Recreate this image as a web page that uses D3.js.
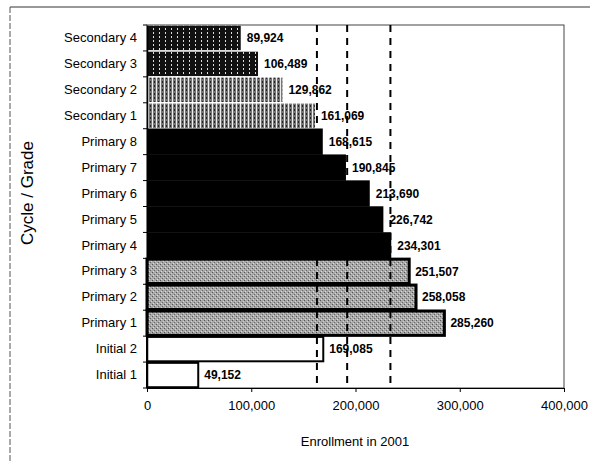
<!DOCTYPE html>
<html><head><meta charset="utf-8">
<script src="https://cdn.jsdelivr.net/npm/d3@7"></script>
<style>body{margin:0;background:#fff;} svg{display:block;font-family:"Liberation Sans",Arial,sans-serif;}</style>
</head><body>
<svg id="chart" width="596" height="463"></svg>
<script>
const categories = ["Secondary 4","Secondary 3","Secondary 2","Secondary 1","Primary 8","Primary 7","Primary 6","Primary 5","Primary 4","Primary 3","Primary 2","Primary 1","Initial 2","Initial 1"];
const enrollment = [89924,106489,129862,161069,168615,190845,213690,226742,234301,251507,258058,285260,169085,49152];
const fillTypes = ["stripeDark","stripeDark","stripeLight","stripeLight","solid","solid","solid","solid","solid","speckle","speckle","speckle","white","white"];
const refLines = [163000,192000,233500];
const xTicks = [0,100000,200000,300000,400000];

(function(){
const svg = d3.select("#chart");
const defs = svg.append("defs");
let p = defs.append("pattern").attr("id","stripeDark").attr("patternUnits","userSpaceOnUse").attr("width",6).attr("height",4);
p.append("rect").attr("width",6).attr("height",4).attr("fill","#111");
p.append("rect").attr("x",3).attr("y",0).attr("width",1).attr("height",2).attr("fill","#ddd");
p = defs.append("pattern").attr("id","stripeLight").attr("patternUnits","userSpaceOnUse").attr("width",4).attr("height",4);
p.append("rect").attr("width",4).attr("height",4).attr("fill","#777");
p.append("rect").attr("x",0).attr("y",0).attr("width",1).attr("height",4).attr("fill","#eee");
p.append("rect").attr("x",2).attr("y",1).attr("width",1).attr("height",2).attr("fill","#222");
p = defs.append("pattern").attr("id","speckle").attr("patternUnits","userSpaceOnUse").attr("width",4).attr("height",4);
p.append("rect").attr("width",4).attr("height",4).attr("fill","#a8a8a8");
p.append("rect").attr("x",0).attr("y",0).attr("width",1).attr("height",1).attr("fill","#555");
p.append("rect").attr("x",2).attr("y",2).attr("width",1).attr("height",1).attr("fill","#666");
p.append("rect").attr("x",1).attr("y",3).attr("width",1).attr("height",1).attr("fill","#ddd");
p.append("rect").attr("x",3).attr("y",1).attr("width",1).attr("height",1).attr("fill","#d0d0d0");

const fills = {stripeDark:"url(#stripeDark)", stripeLight:"url(#stripeLight)", solid:"#000", speckle:"url(#speckle)", white:"#fff"};

const mL = 147, mR = 564, mT = 25, mB = 388;
const x = d3.scaleLinear().domain([0,400000]).range([mL,mR]);
const y = d3.scaleBand().domain(categories).range([mT,mB]).paddingInner(0.06).paddingOuter(0.03);

svg.append("line").attr("x1",10).attr("x2",590).attr("y1",7).attr("y2",7).attr("stroke","#333").attr("stroke-width",1);
svg.append("line").attr("x1",10).attr("x2",10).attr("y1",7).attr("y2",463).attr("stroke","#555").attr("stroke-width",1).attr("stroke-dasharray","6,2");

svg.append("rect").attr("x",mL).attr("y",mT).attr("width",mR-mL).attr("height",mB-mT)
  .attr("fill","none").attr("stroke","#444").attr("stroke-width",1);

const data = categories.map((c,i)=>({c, v:enrollment[i], f:fillTypes[i]}));

svg.append("g").selectAll("rect").data(data).join("rect")
  .attr("x", x(0))
  .attr("y", d=> (d.f==="solid") ? y(d.c)-1 : y(d.c))
  .attr("width", d=> x(d.v)-x(0))
  .attr("height", d=> (d.f==="solid") ? y.bandwidth()+2 : y.bandwidth())
  .attr("fill", d=>fills[d.f])
  .attr("stroke", d=> (d.f==="speckle"||d.f==="white") ? "#000" : "none")
  .attr("stroke-width", d=> d.f==="speckle" ? 3 : 2);

svg.append("g").selectAll("line").data(refLines).join("line")
  .attr("x1",d=>x(d)).attr("x2",d=>x(d)).attr("y1",mT).attr("y2",mB-2)
  .attr("stroke","#000").attr("stroke-width",2).attr("stroke-dasharray","7,6");

svg.append("g").selectAll("text").data(data).join("text")
  .attr("x", d=>x(d.v)+6)
  .attr("y", d=>y(d.c)+y.bandwidth()/2)
  .attr("dy","0.35em")
  .attr("font-size",12).attr("font-weight","bold")
  .text(d=>d3.format(",")(d.v));

const yAxis = svg.append("g").attr("transform",`translate(${mL},0)`)
  .call(d3.axisLeft(y).tickSize(0).tickPadding(10));
yAxis.select(".domain").attr("stroke","#000").attr("stroke-width",1.5);
yAxis.selectAll("text").attr("font-size",13).attr("fill","#000").attr("font-family","Liberation Sans, Arial, sans-serif");
const bounds = categories.map(c=>y(c)-y.step()*y.paddingInner()/2).concat([mB]);
svg.append("g").selectAll("line").data(bounds).join("line")
  .attr("x1",mL-4).attr("x2",mL).attr("y1",d=>d).attr("y2",d=>d).attr("stroke","#000");

const xAxis = svg.append("g").attr("transform",`translate(0,${mB})`)
  .call(d3.axisBottom(x).tickValues(xTicks).tickFormat(d3.format(",")).tickSize(4).tickPadding(9));
xAxis.select(".domain").attr("stroke","#000");
xAxis.selectAll("text").attr("font-size",13).attr("fill","#000").attr("font-family","Liberation Sans, Arial, sans-serif");

svg.append("text").attr("x",355).attr("y",446).attr("text-anchor","middle").attr("font-size",13).text("Enrollment in 2001");
svg.append("text").attr("transform","translate(33,193) rotate(-90)").attr("text-anchor","middle").attr("font-size",17).text("Cycle / Grade");
})();
</script>
</body></html>
